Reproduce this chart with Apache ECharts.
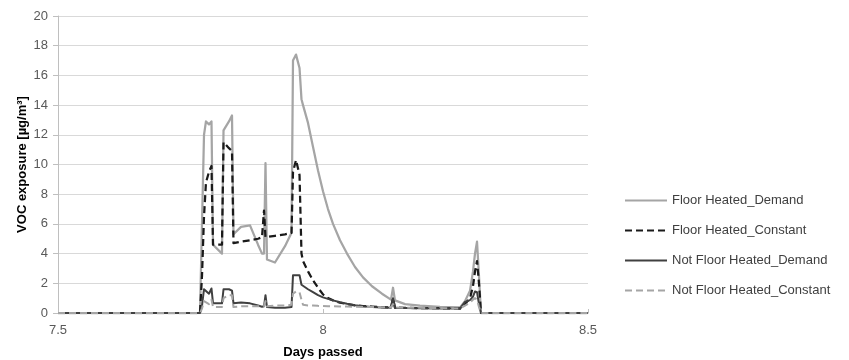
<!DOCTYPE html>
<html>
<head>
<meta charset="utf-8">
<script src="https://cdn.jsdelivr.net/npm/echarts@6/dist/echarts.min.js"></script>
<style>
  html, body { margin: 0; padding: 0; background: #fff; }
  #chart { width: 849px; height: 360px; }
</style>
</head>
<body>
<div id="chart"></div>
<script>
// Datos (dias vs exposicion VOC)
const days = [7.5, 7.7679, 7.7717, 7.7755, 7.7792, 7.7849, 7.7896, 7.7925, 7.8094, 7.8123,
    7.8226, 7.8283, 7.8311, 7.8453, 7.8623, 7.8774, 7.8849, 7.8887, 7.8915, 7.8943,
    7.9094, 7.9283, 7.9406, 7.9434, 7.9491, 7.9557, 7.9594, 7.9623, 7.9717, 7.9811,
    7.9906, 8.0, 8.0094, 8.0189, 8.0321, 8.0453, 8.0604, 8.0755, 8.0925, 8.1113,
    8.1283, 8.1321, 8.1358, 8.1547, 8.1830, 8.2208, 8.2585, 8.2679, 8.2774, 8.2830,
    8.2868, 8.2906, 8.2943, 8.2981, 8.5];

const floorDemand = [0, 0, 6, 12.0, 12.9, 12.7, 12.9, 4.6, 4.0, 12.3,
    12.9, 13.3, 5.3, 5.8, 5.9, 4.6, 4.0, 4.0, 10.1, 3.6,
    3.4, 4.5, 5.4, 17.0, 17.4, 16.5, 14.4, 14.0, 12.8, 11.2,
    9.6, 8.2, 7.0, 6.0, 4.9, 4.0, 3.1, 2.4, 1.8, 1.3,
    0.9, 1.7, 0.85, 0.6, 0.5, 0.42, 0.38, 0.8, 1.5, 2.8,
    4.0, 4.8, 2.5, 0, 0];

const floorConstant = [0, 0, 2.5, 6.5, 8.8, 9.5, 9.9, 4.6, 4.6, 11.5,
    11.1, 10.9, 4.7, 4.8, 4.9, 5.0, 5.1, 6.9, 5.1, 5.15,
    5.2, 5.3, 5.4, 9.5, 10.3, 9.3, 4.0, 3.5, 2.8, 2.2,
    1.7, 1.25, 1.0, 0.85, 0.7, 0.6, 0.52, 0.47, 0.43, 0.4,
    0.38, 1.0, 0.37, 0.35, 0.33, 0.32, 0.3, 0.6, 1.0, 1.8,
    2.8, 3.5, 2.0, 0, 0];

const notFloorDemand = [0, 0, 0.5, 1.6, 1.65, 1.3, 1.65, 0.65, 0.65, 1.6,
    1.6, 1.5, 0.65, 0.7, 0.65, 0.5, 0.42, 0.45, 1.2, 0.4,
    0.35, 0.35, 0.4, 2.55, 2.55, 2.55, 1.9, 1.8, 1.6, 1.4,
    1.2, 1.05, 0.95, 0.85, 0.72, 0.62, 0.52, 0.45, 0.4, 0.37,
    0.35, 1.0, 0.34, 0.33, 0.32, 0.3, 0.3, 0.75, 0.87, 1.1,
    1.45, 1.4, 0.6, 0, 0];

const notFloorConstant = [0, 0, 0.3, 0.8, 0.9, 0.6, 0.9, 0.4, 0.4, 1.0,
    1.2, 1.2, 0.4, 0.45, 0.45, 0.45, 0.45, 0.45, 0.8, 0.45,
    0.5, 0.5, 0.55, 1.3, 1.45, 1.4, 0.9, 0.55, 0.5, 0.5,
    0.48, 0.47, 0.46, 0.45, 0.44, 0.43, 0.42, 0.41, 0.4, 0.39,
    0.38, 0.6, 0.37, 0.36, 0.35, 0.33, 0.3, 0.5, 0.7, 0.9,
    1.0, 0.9, 0.4, 0, 0];

const seriesNames = ['Floor Heated_Demand', 'Floor Heated_Constant', 'Not Floor Heated_Demand', 'Not Floor Heated_Constant'];

const font = 'Liberation Sans, Arial, sans-serif';

function pairs(values) {
    return days.map((d, i) => [d, values[i]]);
}

function lineSeries(name, values, color, width, type) {
    return {
        name: name,
        type: 'line',
        data: pairs(values),
        symbol: 'none',
        smooth: false,
        lineStyle: { color: color, width: width, type: type, cap: 'butt', join: 'round' },
        itemStyle: { color: color }
    };
}

let chart = echarts.init(document.getElementById('chart'));
chart.setOption({
    animation: false,
    textStyle: { fontFamily: font },
    grid: { left: 58, right: 261, top: 16, bottom: 47, outerBoundsMode: 'none', containLabel: false },
    legend: {
        orient: 'vertical',
        left: 619,
        top: 189,
        itemWidth: 42,
        itemHeight: 14,
        itemGap: 17,
        itemStyle: { opacity: 0 },
        textStyle: { fontSize: 13, color: '#404040', fontFamily: font },
        data: seriesNames
    },
    xAxis: {
        type: 'value',
        min: 7.5,
        max: 8.5,
        interval: 0.5,
        name: 'Days passed',
        nameLocation: 'middle',
        nameGap: 33,
        nameMoveOverlap: false,
        nameTextStyle: { fontWeight: 'bold', fontSize: 13, color: '#000' },
        axisLine: { lineStyle: { color: '#bfbfbf', width: 1 } },
        axisTick: { show: true, inside: true, length: 4, lineStyle: { color: '#bfbfbf' } },
        axisLabel: { color: '#595959', fontSize: 13, margin: 11 },
        splitLine: { show: false }
    },
    yAxis: {
        type: 'value',
        min: 0,
        max: 20,
        interval: 2,
        name: 'VOC exposure [µg/m³]',
        nameLocation: 'middle',
        nameRotate: 90,
        nameGap: 29,
        nameMoveOverlap: false,
        nameTextStyle: { fontWeight: 'bold', fontSize: 13, color: '#000' },
        axisLine: { show: true, lineStyle: { color: '#bfbfbf', width: 1 } },
        axisTick: { show: true, length: 5, lineStyle: { color: '#bfbfbf' } },
        axisLabel: { color: '#595959', fontSize: 13, margin: 10 },
        splitLine: { lineStyle: { color: '#d9d9d9', width: 1 } }
    },
    series: [
        lineSeries(seriesNames[0], floorDemand, '#a5a5a5', 2.25, 'solid'),
        lineSeries(seriesNames[1], floorConstant, '#1a1a1a', 2.25, [7, 4]),
        lineSeries(seriesNames[2], notFloorDemand, '#404040', 2, 'solid'),
        lineSeries(seriesNames[3], notFloorConstant, '#a5a5a5', 2, [7, 4])
    ]
});
</script>
</body>
</html>
